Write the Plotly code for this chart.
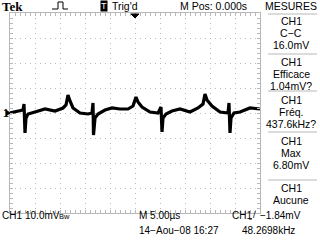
import plotly.graph_objects as go

# Trace samples: time (µs, 5 µs/div) and voltage (mV, 10 mV/div)
t_us = [-25, -24, -23, -22.4, -22.2, -22.0, -21.8, -21.4, -20, -18, -16, -14.4, -13.8, -13.4,
        -13, -12.4, -11, -9.4, -8.6, -8.4, -8.3, -8.0, -7.4, -6, -4.6, -3, -1.4, -0.4, 0.2,
        0.6, 1.4, 3, 4.6, 5.2, 5.4, 5.6, 6.2, 7.4, 9, 11, 12.6, 13.6, 14, 14.4, 15.4, 17,
        18.6, 18.8, 19, 19.2, 19.8, 21, 23, 25]
v_mv = [0, 0.4, 0.8, 1.2, 3.6, -8.0, -2.0, -0.4, 0.4, 1.6, 0.8, 2.0, 3.2, 7.2,
        4.8, 2.0, 0, -0.4, 0, 4.0, -8.8, -2.0, -0.4, 1.2, 2.0, 1.6, 1.6, 2.8, 6.4,
        4.4, 2.4, 0.4, 0, 2.4, -7.6, -2.0, -0.4, 0.8, 1.6, 0.4, 2.0, 3.6, 7.6, 5.2, 2.8, 0.4,
        0, 4.0, -8.0, -2.0, 0, 0.4, 2.0, 1.6]

meas_title = "MESURES"
meas_blocks = [["CH1", "C\u2212C", "16.0mV"],
               ["CH1", "Efficace", "1.04mV?"],
               ["CH1", "Fréq.", "437.6kHz?"],
               ["CH1", "Max", "6.80mV"],
               ["CH1", "Aucune"]]

W, H = 320, 240
def px(x): return x / W
def py(y): return 1 - y / H

GRID = "#b8b8b8"
FONT = "Liberation Sans"

fig = go.Figure()
fig.add_trace(go.Scatter(x=t_us, y=v_mv, mode="lines",
                         line=dict(color="black", width=3.2), hoverinfo="skip"))

axcommon = dict(showticklabels=False, zeroline=False, showgrid=True, gridcolor=GRID,
                griddash="1px,4px", gridwidth=1, showline=True, linecolor=GRID,
                linewidth=1, mirror="allticks", ticks="inside", ticklen=3, tickcolor=GRID)

fig.update_layout(
    width=W, height=H, margin=dict(l=0, r=0, t=0, b=0),
    paper_bgcolor="white", plot_bgcolor="white", showlegend=False,
    xaxis=dict(range=[-25, 25], domain=[px(10), px(260)], dtick=5,
               minor=dict(dtick=1, ticklen=3, tickcolor=GRID, ticks="inside", showgrid=False),
               **axcommon),
    yaxis=dict(range=[-40, 40], domain=[py(213), py(13)], dtick=10,
               minor=dict(dtick=2, ticklen=3, tickcolor=GRID, ticks="inside", showgrid=False),
               **axcommon),
    xaxis2=dict(range=[-25, 25], overlaying="x", anchor="free", position=py(113),
                showticklabels=False, showgrid=False, zeroline=False, showline=False,
                ticks="outside", ticklen=2, tickcolor=GRID, dtick=1),
    yaxis2=dict(range=[-40, 40], overlaying="y", anchor="free", position=px(135),
                showticklabels=False, showgrid=False, zeroline=False, showline=False,
                ticks="outside", ticklen=2, tickcolor=GRID, dtick=2),
)

ann = []
def txt(x, y, s, size=10.5, anchor="left", family=FONT, color="black", **kw):
    ann.append(dict(x=px(x), y=py(y), xref="paper", yref="paper", text=s, showarrow=False,
                    xanchor=anchor, yanchor="middle",
                    font=dict(family=family, size=size, color=color), **kw))

txt(0, 6, "<b>Tek</b>", size=13, family="Liberation Serif")
txt(103.5, 6, "T", size=9, anchor="center", color="white", bgcolor="black", borderpad=0)
txt(110, 6, "Trig'd")
txt(178, 6, "M Pos: 0.000s")
txt(291, 6, meas_title, anchor="center")

block_y = [21, 62, 100, 141, 188]
for by, block in zip(block_y, meas_blocks):
    for i, s in enumerate(block):
        txt(291, by + 12 * i, s, anchor="center")

txt(0, 215, "CH1", size=10)
txt(23, 215, "10.0mV", size=10)
txt(57, 216, "Bw", size=7.5)
txt(137, 215, "M 5.00\u00b5s", size=10)
txt(230, 215, "CH1", size=10)
txt(251, 215, "/", size=9)
txt(258, 215, "\u22121.84mV", size=10)
txt(137, 230, "14\u2212Aou\u221208 16:27", size=10)
txt(240, 230, "48.2698kHz", size=10)
txt(1, 113, "1")

shapes = []
for yy in [14, 54, 91, 132, 180]:
    shapes.append(dict(type="line", xref="paper", yref="paper", x0=px(268), x1=px(317),
                       y0=py(yy), y1=py(yy), line=dict(color=GRID, width=1)))

def path(pts, close=False):
    s = "M " + " L ".join(f"{px(a):.5f},{py(b):.5f}" for a, b in pts)
    return s + (" Z" if close else "")

# pulse icon
shapes.append(dict(type="path", xref="paper", yref="paper",
                   path=path([(52, 9), (58, 9), (58, 2), (63, 2), (63, 9), (68, 9)]),
                   line=dict(color="black", width=1)))
# trigger slope flag
shapes.append(dict(type="path", xref="paper", yref="paper",
                   path=path([(249, 219), (252, 219)]),
                   line=dict(color="black", width=1)))
# trigger position marker
shapes.append(dict(type="path", xref="paper", yref="paper",
                   path=path([(131, 14), (139, 14), (135, 18)], close=True),
                   fillcolor="black", line=dict(color="black", width=1)))
# ground marker arrow
shapes.append(dict(type="path", xref="paper", yref="paper",
                   path=path([(6, 110), (10, 113), (6, 116)], close=True),
                   fillcolor="black", line=dict(color="black", width=1)))

fig.update_layout(annotations=ann, shapes=shapes)
fig.write_html("out.html")
